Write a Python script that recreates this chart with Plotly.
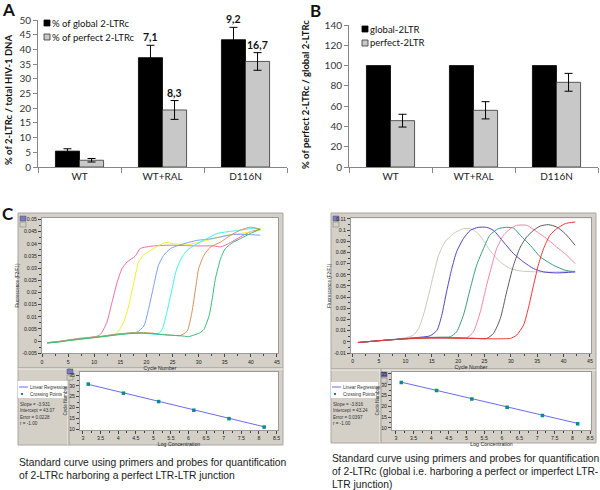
import numpy as np
import plotly.graph_objects as go

# ---------------- data ----------------
groups = ['WT', 'WT+RAL', 'D116N']

# panel A: % of 2-LTRc / total HIV-1 DNA
global_pct = [5.4, 37.2, 43.3]
global_err = [0.8, 4.2, 4.2]
perfect_pct = [2.3, 19.4, 35.9]
perfect_err = [0.6, 3.2, 3.0]
global_fold = ['', '7,1', '9,2']
perfect_fold = ['', '8,3', '16,7']

# panel B: % of perfect 2-LTRc / global 2-LTRc
global_rel = [100, 100, 100]
perfect_rel = [45.7, 55.9, 83.5]
perfect_rel_err = [6.3, 8.5, 8.8]

# panel C left: amplification curves (perfect junction probe)
cyc_l_pink = [1, 3, 5, 7, 9, 10.5, 11.2, 12.4, 13.4, 14.4, 15.3, 16.3, 17.9, 18.8, 21.4, 25.2, 28, 30.3, 32.9, 34.2, 36.1, 38, 39.9, 41.8]
fl_l_pink = [-0.0007, -0.0003, 0.0004, 0.0011, 0.0015, 0.002, 0.0028, 0.0076, 0.0159, 0.0242, 0.0297, 0.0325, 0.035, 0.038, 0.0391, 0.0394, 0.0392, 0.0391, 0.0391, 0.0387, 0.0405, 0.0428, 0.0449, 0.046]
cyc_l_yellow = [1, 3, 5, 7, 9, 11, 13, 14.4, 15.6, 16.6, 17.6, 18.5, 19.5, 21.4, 23.6, 25.2, 27.8, 30.3, 32.9, 35.4, 38, 39.9, 41.8]
fl_l_yellow = [-0.0008, -0.0004, 0.0002, 0.0006, 0.0012, 0.0016, 0.0022, 0.0035, 0.0076, 0.0145, 0.0242, 0.0325, 0.0355, 0.038, 0.0405, 0.040, 0.0396, 0.0407, 0.0421, 0.0435, 0.0442, 0.0449, 0.0455]
cyc_l_blue = [1, 3, 5, 7, 9, 11, 13, 15, 17, 18.2, 19.5, 20.4, 21.4, 22.3, 23.3, 24.6, 26.5, 29.7, 31.6, 34.2, 36.7, 39.3, 41.8]
fl_l_blue = [-0.0006, -0.0002, 0.0004, 0.0009, 0.0014, 0.0018, 0.0024, 0.003, 0.0033, 0.0037, 0.0062, 0.0131, 0.0228, 0.0311, 0.0352, 0.038, 0.0396, 0.0414, 0.0418, 0.0428, 0.0438, 0.0438, 0.0435]
cyc_l_cyan = [1, 3, 5, 7, 9, 11, 13, 15, 17, 19, 21, 22, 23, 23.9, 24.9, 25.8, 26.8, 27.8, 29.7, 31.6, 33.5, 35.4, 38, 40.5, 41.8]
fl_l_cyan = [-0.0007, -0.0003, 0.0003, 0.0008, 0.0013, 0.0018, 0.0023, 0.0029, 0.0033, 0.0032, 0.003, 0.0028, 0.0048, 0.0117, 0.0214, 0.0297, 0.0345, 0.0373, 0.040, 0.0421, 0.0442, 0.0449, 0.0456, 0.0463, 0.046]
cyc_l_orange = [1, 3, 5, 7, 9, 11, 13, 15, 17, 19, 21, 23, 25, 26.5, 27.8, 28.7, 29.4, 30, 31, 32.3, 34.2, 36.1, 38, 39.9, 41.8]
fl_l_orange = [-0.0006, -0.0002, 0.0004, 0.0009, 0.0014, 0.0019, 0.0025, 0.003, 0.0034, 0.0035, 0.0033, 0.0027, 0.0024, 0.0023, 0.0041, 0.0117, 0.0214, 0.0297, 0.0352, 0.0387, 0.0407, 0.0435, 0.0456, 0.0468, 0.046]
cyc_l_green = [1, 3, 5, 7, 9, 11, 13, 15, 17, 19, 21, 23, 25, 27, 28, 29.5, 30.3, 31, 32, 32.6, 33.2, 34.2, 35.1, 36.7, 38, 39.9, 41.8]
fl_l_green = [-0.0008, -0.0004, 0.0002, 0.0007, 0.0012, 0.0017, 0.0022, 0.0027, 0.0031, 0.0033, 0.0031, 0.0027, 0.0024, 0.0021, 0.0018, 0.0028, 0.0035, 0.0048, 0.0104, 0.0173, 0.0255, 0.0338, 0.038, 0.0407, 0.0421, 0.0442, 0.046]

# panel C right: amplification curves (global probe)
cyc_r_ivory = [1, 3, 5, 7, 9, 10.5, 11.5, 12.5, 13.4, 14.4, 15.3, 16.3, 17.5, 19.1, 21, 22.3, 23.5, 24.8, 26, 28, 29.9, 31.8, 35, 38.7, 42.2]
fl_r_ivory = [-0.0006, 0.0002, 0.001, 0.0018, 0.0028, 0.0042, 0.006, 0.0119, 0.0238, 0.0417, 0.0596, 0.0775, 0.0894, 0.0969, 0.1013, 0.1013, 0.0983, 0.0909, 0.082, 0.0715, 0.0656, 0.0635, 0.0626, 0.0626, 0.0632]
cyc_r_purple = [1, 3, 5, 7, 9, 11, 13, 14.7, 16, 16.9, 17.8, 18.8, 19.7, 21, 22.3, 23.8, 25.4, 26.7, 28.6, 30.5, 32.4, 34.3, 36.2, 38.7, 42.2]
fl_r_purple = [-0.0006, 0.0002, 0.001, 0.0018, 0.0026, 0.0034, 0.0042, 0.0054, 0.0104, 0.0238, 0.0447, 0.0656, 0.0805, 0.0924, 0.0998, 0.1025, 0.1025, 0.0998, 0.0894, 0.079, 0.0715, 0.0656, 0.0626, 0.0617, 0.0626]
cyc_r_teal = [1, 3, 5, 7, 9, 11, 13, 15, 17, 18.5, 19.7, 21, 22.3, 23.5, 24.8, 26, 27.6, 29.2, 30.5, 31.8, 33.7, 35.6, 38.1, 40.3, 42.2]
fl_r_teal = [-0.0006, 0.0002, 0.001, 0.0017, 0.0025, 0.0031, 0.0036, 0.004, 0.0042, 0.0045, 0.0089, 0.0238, 0.0477, 0.0685, 0.0834, 0.0954, 0.1013, 0.1025, 0.1019, 0.0954, 0.0864, 0.076, 0.0685, 0.0641, 0.0626]
cyc_r_pink = [1, 3, 5, 7, 9, 11, 13, 15, 17, 19, 20.5, 21.6, 22.9, 24.2, 25.4, 26.4, 27.3, 28.6, 29.9, 31.1, 33, 35, 36.8, 38.7, 40.6, 42.2]
fl_r_pink = [-0.0006, 0.0002, 0.001, 0.0017, 0.0024, 0.003, 0.0034, 0.0036, 0.0037, 0.0037, 0.0036, 0.0036, 0.0089, 0.0268, 0.0507, 0.0685, 0.0834, 0.0954, 0.1013, 0.1043, 0.1043, 0.0983, 0.0924, 0.0849, 0.0775, 0.070]
cyc_r_grey = [1, 3, 5, 7, 9, 11, 13, 15, 17, 19, 21, 23, 25.4, 26.7, 28, 29.2, 30.5, 31.8, 33, 34.3, 35.6, 37.1, 38.7, 40.3, 42.2]
fl_r_grey = [-0.0006, 0.0002, 0.001, 0.0017, 0.0024, 0.003, 0.0034, 0.0036, 0.0036, 0.0035, 0.0034, 0.0032, 0.003, 0.0075, 0.0209, 0.0447, 0.0685, 0.0849, 0.0939, 0.0998, 0.1037, 0.1049, 0.1028, 0.0969, 0.0864]
cyc_r_red = [1, 3, 5, 7, 9, 11, 13, 15, 17, 19, 21, 23, 25, 27, 29, 29.9, 31.1, 32.4, 33.3, 34.3, 35.2, 36.2, 37.4, 38.7, 40.3, 42.2]
fl_r_red = [-0.0006, 0.0002, 0.001, 0.0017, 0.0023, 0.0028, 0.0032, 0.0034, 0.0034, 0.0033, 0.0031, 0.003, 0.0028, 0.0027, 0.0028, 0.003, 0.006, 0.0149, 0.0298, 0.0507, 0.0685, 0.0834, 0.0954, 0.1013, 0.1058, 0.1073]

# standard curves: crossing points vs log concentration
log_conc = [3.15, 4.15, 5.15, 6.15, 7.15, 8.15]
cp_left = [30.8, 26.6, 22.7, 18.7, 14.8, 10.9]
cp_right = [31.1, 27.3, 23.4, 19.6, 15.8, 12.0]
slope_left, intercept_left, error_left, r_left = -3.931, 43.07, 0.0228, -1.00
slope_right, intercept_right, error_right, r_right = -3.816, 43.24, 0.0397, -1.00

amp_l_ticks = [-0.005, 0, 0.005, 0.01, 0.015, 0.02, 0.025, 0.03, 0.035, 0.04, 0.045, 0.05]
amp_r_ticks = [-0.01, 0, 0.01, 0.02, 0.03, 0.04, 0.05, 0.06, 0.07, 0.08, 0.09, 0.1, 0.11]
conc_ticks = [3, 3.5, 4, 4.5, 5, 5.5, 6, 6.5, 7, 7.5, 8, 8.5]

# ---------------- helpers ----------------
W, H = 600, 490


def X(p):
    return p / W


def Y(p):
    return 1 - p / H


EXCEL = 'Lato, Open Sans, sans-serif'
WIN = 'Liberation Sans, Arial, sans-serif'
FRAME = '#d4d0c8'

fig = go.Figure()

# ---------------- panel A ----------------
fig.add_trace(go.Bar(x=groups, y=global_pct, name='% of global 2-LTRc',
                     marker=dict(color='black', line=dict(color='black', width=0.8)),
                     error_y=dict(type='data', array=global_err, color='black', thickness=1, width=4),
                     xaxis='x', yaxis='y', offsetgroup='g'))
fig.add_trace(go.Bar(x=groups, y=perfect_pct, name='% of perfect 2-LTRc',
                     marker=dict(color='#c8c8c8', line=dict(color='#333333', width=0.8)),
                     error_y=dict(type='data', array=perfect_err, color='black', thickness=1, width=4),
                     xaxis='x', yaxis='y', offsetgroup='p'))

# ---------------- panel B ----------------
fig.add_trace(go.Bar(x=groups, y=global_rel, name='global-2LTR',
                     marker=dict(color='black', line=dict(color='black', width=0.8)),
                     xaxis='x2', yaxis='y2', offsetgroup='g'))
fig.add_trace(go.Bar(x=groups, y=perfect_rel, name='perfect-2LTR',
                     marker=dict(color='#c8c8c8', line=dict(color='#333333', width=0.8)),
                     error_y=dict(type='data', array=perfect_rel_err, color='black', thickness=1, width=4),
                     xaxis='x2', yaxis='y2', offsetgroup='p'))

# ---------------- panel C amplification curves ----------------
left_curves = [(cyc_l_pink, fl_l_pink, '#f26a98'), (cyc_l_yellow, fl_l_yellow, '#f0ee30'),
               (cyc_l_blue, fl_l_blue, '#7c9ef2'), (cyc_l_cyan, fl_l_cyan, '#3cf2f0'),
               (cyc_l_orange, fl_l_orange, '#d6905c'), (cyc_l_green, fl_l_green, '#3cb87c')]
for cx, cy, col in left_curves:
    fig.add_trace(go.Scatter(x=cx, y=cy, mode='lines', line=dict(color=col, width=1, shape='spline', smoothing=0.6),
                             xaxis='x3', yaxis='y3', showlegend=False))

right_curves = [(cyc_r_ivory, fl_r_ivory, '#c8c8bc'), (cyc_r_purple, fl_r_purple, '#5242c8'),
                (cyc_r_teal, fl_r_teal, '#3c9c78'), (cyc_r_pink, fl_r_pink, '#ff82a4'),
                (cyc_r_grey, fl_r_grey, '#5c5c5c'), (cyc_r_red, fl_r_red, '#f23434')]
for cx, cy, col in right_curves:
    fig.add_trace(go.Scatter(x=cx, y=cy, mode='lines', line=dict(color=col, width=1, shape='spline', smoothing=0.6),
                             xaxis='x5', yaxis='y5', showlegend=False))

# ---------------- standard curves ----------------
for cp, slope, icpt, xa, ya in [(cp_left, slope_left, intercept_left, 'x4', 'y4'),
                               (cp_right, slope_right, intercept_right, 'x6', 'y6')]:
    ends = [log_conc[0], log_conc[-1]]
    fig.add_trace(go.Scatter(x=ends, y=[icpt + slope * v for v in ends], mode='lines',
                             line=dict(color='#6a6af2', width=1), xaxis=xa, yaxis=ya, showlegend=False))
    fig.add_trace(go.Scatter(x=log_conc, y=cp, mode='markers',
                             marker=dict(symbol='square', size=3.5, color='#0a8a8a'),
                             xaxis=xa, yaxis=ya, showlegend=False))

# ---------------- axes ----------------
bar_x = dict(type='category', showline=True, linecolor='#868686', ticks='outside', tickson='boundaries',
             ticklen=5, tickcolor='#868686', tickfont=dict(family=EXCEL, size=10, color='#222'),
             showgrid=False, zeroline=False, automargin=False)
bar_y = dict(showline=True, linecolor='#868686', ticks='outside', ticklen=4, tickcolor='#868686',
             tickfont=dict(family=EXCEL, size=10, color='#333'), showgrid=False, zeroline=False,
             automargin=False)

small = dict(family=WIN, size=5.2, color='#222')
qx = dict(showline=True, mirror=True, linecolor='#9a9a9a', ticks='outside', ticklen=3, tickcolor='#444',
          tickfont=small, showgrid=False, zeroline=False, automargin=False,
          minor=dict(ticks='outside', ticklen=2, tickcolor='#444'))

fig.update_layout(
    xaxis=dict(bar_x, domain=[X(38), X(287)], anchor='y'),
    yaxis=dict(bar_y, domain=[Y(167), Y(20)], range=[0, 50], dtick=5, anchor='x'),
    xaxis2=dict(bar_x, domain=[X(349), X(598)], anchor='y2'),
    yaxis2=dict(bar_y, domain=[Y(167), Y(25)], range=[0, 140], dtick=20, anchor='x2'),
    xaxis3=dict(qx, domain=[X(42), X(278)], range=[0, 45.2], tickvals=list(range(0, 50, 5)), anchor='y3',
                minor=dict(qx['minor'], dtick=2.5),
                title=dict(text='Cycle Number', font=small, standoff=0)),
    yaxis3=dict(qx, domain=[Y(353.3), Y(217.7)], range=[-0.005, 0.0507], tickvals=amp_l_ticks,
                ticktext=[f'{v:g}' for v in amp_l_ticks], anchor='x3',
                minor=dict(qx['minor'], dtick=0.0025),
                title=dict(text='Fluorescence (F2/F1)', font=dict(small, size=4.6), standoff=2)),
    xaxis4=dict(qx, domain=[X(80), X(278)], range=[2.915, 8.543], tickvals=conc_ticks,
                ticktext=[f'{v:g}' for v in conc_ticks], anchor='y4',
                minor=dict(qx['minor'], dtick=0.25),
                title=dict(text='Log Concentration', font=small, standoff=0)),
    yaxis4=dict(qx, domain=[Y(430), Y(372)], range=[9.54, 36.4], dtick=5, anchor='x4',
                minor=dict(qx['minor'], dtick=2.5),
                title=dict(text='Cycle Number', font=dict(small, size=4.6), standoff=1)),
    xaxis5=dict(qx, domain=[X(351), X(591)], range=[-0.32, 45.2], tickvals=list(range(0, 50, 5)), anchor='y5',
                minor=dict(qx['minor'], dtick=2.5),
                title=dict(text='Cycle Number', font=small, standoff=0)),
    yaxis5=dict(qx, domain=[Y(353), Y(218.3)], range=[-0.01, 0.1106], tickvals=amp_r_ticks,
                ticktext=[f'{v:g}' for v in amp_r_ticks], anchor='x5',
                minor=dict(qx['minor'], dtick=0.005),
                title=dict(text='Fluorescence (F2/F1)', font=dict(small, size=4.6), standoff=2)),
    xaxis6=dict(qx, domain=[X(392), X(591)], range=[2.887, 8.528], tickvals=conc_ticks,
                ticktext=[f'{v:g}' for v in conc_ticks], anchor='y6',
                minor=dict(qx['minor'], dtick=0.25),
                title=dict(text='Log Concentration', font=small, standoff=0)),
    yaxis6=dict(qx, domain=[Y(430), Y(371.7)], range=[9.07, 36.06], dtick=5, anchor='x6',
                minor=dict(qx['minor'], dtick=2.5),
                title=dict(text='Cycle Number', font=dict(small, size=4.6), standoff=1)),
)

# ---------------- frames and legends (shapes) ----------------
shapes = []


def rect(x0, y0, x1, y1, fill, line='rgba(0,0,0,0)', lw=0):
    shapes.append(dict(type='rect', xref='paper', yref='paper', x0=X(x0), x1=X(x1), y0=Y(y1), y1=Y(y0),
                       fillcolor=fill, line=dict(color=line, width=lw), layer='below'))


def hline(x0, x1, y, color, lw=1):
    shapes.append(dict(type='line', xref='paper', yref='paper', x0=X(x0), x1=X(x1), y0=Y(y), y1=Y(y),
                       line=dict(color=color, width=lw), layer='below'))


def vline(x, y0, y1, color, lw=1):
    shapes.append(dict(type='line', xref='paper', yref='paper', x0=X(x), x1=X(x), y0=Y(y0), y1=Y(y1),
                       line=dict(color=color, width=lw), layer='below'))


for fx0, fx1, fy0, fmid, fy1, div, lg in [(18, 283, 213, 368, 445, 68, (18, 381, 67, 398)),
                                         (331, 596, 213, 369, 443, 380, (331, 382, 378, 398))]:
    rect(fx0, fy0, fx1, fmid, FRAME, '#aaa69e', 1)
    rect(fx0, fmid, fx1, fy1, FRAME, '#aaa69e', 1)
    hline(fx0, fx1, fmid + 1, '#f2f0ec', 1)
    vline(div, fmid, fy1, '#f2f0ec', 1)
    vline(div + 1, fmid, fy1, '#a09c94', 1)
    rect(*lg, 'white')

# white plotting areas inside the instrument windows
rect(42, 217.7, 278, 353.3, 'white')
rect(80, 372, 278, 430, 'white')
rect(351, 218.3, 591, 353, 'white')
rect(392, 371.7, 591, 430, 'white')

# tiny window icons
for ix, iy in [(20, 216), (333, 216), (67, 369), (381, 372)]:
    rect(ix, iy, ix + 6, iy + 5, '#7a78c8', '#555', 0.5)
    rect(ix, iy + 6, ix + 6, iy + 11, FRAME, '#777', 0.5)

# legend swatches for A and B
rect(44, 20, 50, 26, 'black', 'black', 0.8)
rect(44, 34, 50, 40, '#c8c8c8', '#333', 0.8)
rect(362, 26, 368, 32, 'black', 'black', 0.8)
rect(362, 40, 368, 46, '#c8c8c8', '#333', 0.8)

# regression legend samples
hline(19, 28, 387, '#6a6af2', 1)
hline(332, 341, 387, '#6a6af2', 1)
rect(21, 393, 23, 395, '#0a8a8a')
rect(334, 393, 336, 395, '#0a8a8a')

fig.update_layout(shapes=shapes)

# ---------------- text ----------------
ann = []


def txt(x, y, s, size, family=EXCEL, bold=False, xanchor='left', angle=0, color='#111'):
    ann.append(dict(x=X(x), y=Y(y), xref='paper', yref='paper', text=f'<b>{s}</b>' if bold else s,
                    showarrow=False, xanchor=xanchor, yanchor='middle', textangle=angle,
                    borderpad=0, font=dict(family=family, size=size, color=color)))


txt(1, 9, 'A', 17, bold=True)
txt(309, 10, 'B', 17, bold=True)
txt(1, 213, 'C', 17, bold=True)

txt(51, 23, '% of global 2-LTRc', 9.5)
txt(51, 37, '% of perfect 2-LTRc', 9.5)
txt(369, 29, 'global-2LTR', 9.5)
txt(369, 43, 'perfect-2LTR', 9.5)

txt(8, 100, '% of 2-LTRc / total HIV-1 DNA', 9.5, bold=True, xanchor='center', angle=-90)
txt(305, 95, '% of perfect 2-LTRc / global 2-LTRc', 9.5, bold=True, xanchor='center', angle=-90)

# fold values above the bars of panel A
for lbl, val, err, shift in [(global_fold, global_pct, global_err, -12), (perfect_fold, perfect_pct, perfect_err, 12)]:
    for g, s, v, e in zip(groups, lbl, val, err):
        if s:
            ann.append(dict(x=g, y=v + e, xref='x', yref='y', text=f'<b>{s}</b>', showarrow=False,
                            xshift=shift, yanchor='bottom', yshift=0,
                            font=dict(family=EXCEL, size=10.5, color='#111')))

# regression legend + statistics
for x0, slope, icpt, err, r in [(18, slope_left, intercept_left, error_left, r_left),
                                (331, slope_right, intercept_right, error_right, r_right)]:
    txt(x0 + 11, 387, 'Linear Regression', 4.6, family=WIN, color='#333')
    txt(x0 + 11, 394.5, 'Crossing Points', 4.6, family=WIN, color='#333')
    txt(x0 + 1, 404, f'Slope = {slope:.3f}', 4.6, family=WIN, color='#333')
    txt(x0 + 1, 410.5, f'Intercept = {icpt:.2f}', 4.6, family=WIN, color='#333')
    txt(x0 + 1, 417, f'Error = {err:.4f}', 4.6, family=WIN, color='#333')
    txt(x0 + 1, 423.5, f'r = {r:.2f}', 4.6, family=WIN, color='#333')

# captions
cap = '#1a1a1a'
txt(18, 462, 'Standard curve using primers and probes for quantification', 10.3, family=WIN, color=cap)
txt(18, 475, 'of 2-LTRc harboring a perfect LTR-LTR junction', 10.3, family=WIN, color=cap)
txt(331, 458, 'Standard curve using primers and probes for quantification', 10.3, family=WIN, color=cap)
txt(331, 471, 'of 2-LTRc (global i.e. harboring a perfect or imperfect LTR-', 10.3, family=WIN, color=cap)
txt(331, 484, 'LTR junction)', 10.3, family=WIN, color=cap)

fig.update_layout(
    annotations=ann,
    width=W, height=H, autosize=False,
    margin=dict(l=0, r=0, t=0, b=0, pad=0),
    paper_bgcolor='white', plot_bgcolor='white',
    barmode='group', bargap=0.42, bargroupgap=0,
    showlegend=False,
)

# the page's default body margin would shift the figure by 8px
fig.write_html("out.html", config={'displayModeBar': False},
               post_script="document.body.style.margin='0';")
